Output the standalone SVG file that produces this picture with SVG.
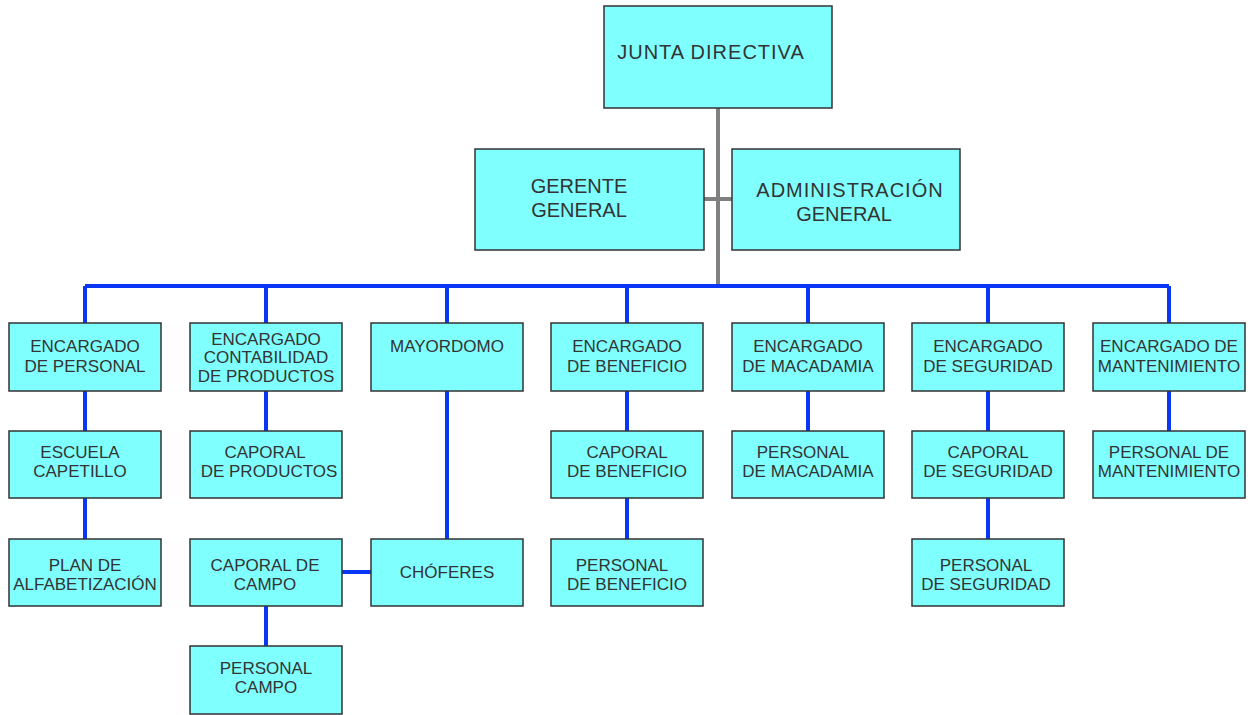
<svg xmlns="http://www.w3.org/2000/svg" width="1251" height="715" viewBox="0 0 1251 715">
<style>
.box{fill:#80ffff;stroke:#333;stroke-width:1.5}
.t{font-family:"Liberation Sans",Arial,sans-serif;font-size:17px;fill:#333;text-anchor:middle}
.big{font-size:20px}
.wide{letter-spacing:1px}
.blue{stroke:#0a36f5;stroke-width:4;fill:none}
.gray{stroke:#808080;stroke-width:4;fill:none}
</style>
<rect width="1251" height="715" fill="#fff"/>
<g id="connectors">
<path class="gray" d="M718 108V286M703 199H732"/>
<path class="blue" d="M85 286H1169M85 286V323M266 286V323M447 286V323M627 286V323M808 286V323M988 286V323M1169 286V323"/>
<path class="blue" d="M85 391V431M85 498V539M266 391V431M266 606V646M342 572H371M447 391V539M627 391V431M627 498V539M808 391V431M988 391V431M988 498V539M1169 391V431"/>
</g>
<g id="junta"><rect class="box" x="604" y="6" width="228" height="102"/><text class="t big wide" x="711" y="59">JUNTA DIRECTIVA</text></g>
<g id="gerente"><rect class="box" x="475" y="149" width="229" height="101"/><text class="t big" x="579" y="193">GERENTE</text><text class="t big" x="579" y="217">GENERAL</text></g>
<g id="admin"><rect class="box" x="732" y="149" width="228" height="101"/><text class="t big wide" x="850" y="197">ADMINISTRACIÓN</text><text class="t big" x="844" y="221">GENERAL</text></g>

<g id="enc-personal"><rect class="box" x="9" y="323" width="152" height="68"/><text class="t" x="85" y="352">ENCARGADO</text><text class="t" x="85" y="372">DE PERSONAL</text></g>
<g id="enc-contabilidad"><rect class="box" x="190" y="323" width="152" height="68"/><text class="t" x="266" y="345">ENCARGADO</text><text class="t" x="266" y="363">CONTABILIDAD</text><text class="t" x="266" y="382">DE PRODUCTOS</text></g>
<g id="mayordomo"><rect class="box" x="371" y="323" width="152" height="68"/><text class="t" x="447" y="352">MAYORDOMO</text></g>
<g id="enc-beneficio"><rect class="box" x="551" y="323" width="152" height="68"/><text class="t" x="627" y="352">ENCARGADO</text><text class="t" x="627" y="372">DE BENEFICIO</text></g>
<g id="enc-macadamia"><rect class="box" x="732" y="323" width="152" height="68"/><text class="t" x="808" y="352">ENCARGADO</text><text class="t" x="808" y="372">DE MACADAMIA</text></g>
<g id="enc-seguridad"><rect class="box" x="912" y="323" width="152" height="68"/><text class="t" x="988" y="352">ENCARGADO</text><text class="t" x="988" y="372">DE SEGURIDAD</text></g>
<g id="enc-mantenimiento"><rect class="box" x="1093" y="323" width="152" height="68"/><text class="t" x="1169" y="352">ENCARGADO DE</text><text class="t" x="1169" y="372">MANTENIMIENTO</text></g>

<g id="escuela"><rect class="box" x="9" y="431" width="152" height="67"/><text class="t" x="80" y="458">ESCUELA</text><text class="t" x="80" y="477">CAPETILLO</text></g>
<g id="caporal-productos"><rect class="box" x="190" y="431" width="152" height="67"/><text class="t" x="265" y="458">CAPORAL</text><text class="t" x="269" y="477">DE PRODUCTOS</text></g>
<g id="caporal-beneficio"><rect class="box" x="551" y="431" width="152" height="67"/><text class="t" x="627" y="458">CAPORAL</text><text class="t" x="627" y="477">DE BENEFICIO</text></g>
<g id="personal-macadamia"><rect class="box" x="732" y="431" width="152" height="67"/><text class="t" x="803" y="458">PERSONAL</text><text class="t" x="808" y="477">DE MACADAMIA</text></g>
<g id="caporal-seguridad"><rect class="box" x="912" y="431" width="152" height="67"/><text class="t" x="988" y="458">CAPORAL</text><text class="t" x="988" y="477">DE SEGURIDAD</text></g>
<g id="personal-mantenimiento"><rect class="box" x="1093" y="431" width="152" height="67"/><text class="t" x="1169" y="458">PERSONAL DE</text><text class="t" x="1169" y="477">MANTENIMIENTO</text></g>

<g id="plan"><rect class="box" x="9" y="539" width="152" height="67"/><text class="t" x="85" y="571">PLAN DE</text><text class="t" x="85" y="590">ALFABETIZACIÓN</text></g>
<g id="caporal-campo"><rect class="box" x="190" y="539" width="152" height="67"/><text class="t" x="265" y="571">CAPORAL DE</text><text class="t" x="265" y="590">CAMPO</text></g>
<g id="choferes"><rect class="box" x="371" y="539" width="152" height="67"/><text class="t" x="447" y="578">CHÓFERES</text></g>
<g id="personal-beneficio"><rect class="box" x="551" y="539" width="152" height="67"/><text class="t" x="622" y="571">PERSONAL</text><text class="t" x="627" y="590">DE BENEFICIO</text></g>
<g id="personal-seguridad"><rect class="box" x="912" y="539" width="152" height="67"/><text class="t" x="986" y="571">PERSONAL</text><text class="t" x="986" y="590">DE SEGURIDAD</text></g>

<g id="personal-campo"><rect class="box" x="190" y="646" width="152" height="68"/><text class="t" x="266" y="674">PERSONAL</text><text class="t" x="266" y="693">CAMPO</text></g>
</svg>
